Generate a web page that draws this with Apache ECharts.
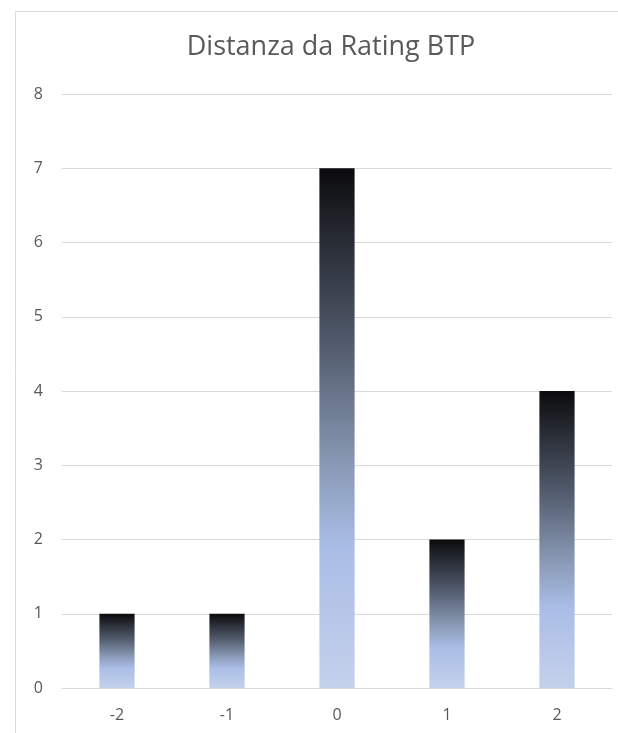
<!DOCTYPE html>
<html><head><meta charset="utf-8">
<script src="https://cdn.jsdelivr.net/npm/echarts@6/dist/echarts.min.js"></script>
<style>html,body{margin:0;padding:0;background:#fff}#c{width:618px;height:733px}</style>
</head><body><div id="c"></div>
<script>
const categories = ['-2', '-1', '0', '1', '2'];
const values = [1, 1, 7, 2, 4];
const yTicks = [0, 1, 2, 3, 4, 5, 6, 7, 8];
const titleText = 'Distanza da Rating BTP';

const chart = echarts.init(document.getElementById('c'), null, {renderer: 'canvas'});
const grad = new echarts.graphic.LinearGradient(0, 0, 0, 1, [
  {offset: 0, color: '#0b0b0d'},
  {offset: 0.35, color: '#545e70'},
  {offset: 0.55, color: '#8494ae'},
  {offset: 0.73, color: '#aabde6'},
  {offset: 1, color: '#c4d1eb'}
]);
chart.setOption({
  animation: false,
  graphic: [{
    type: 'rect', shape: {x: 15.5, y: 11.5, width: 620, height: 740},
    style: {fill: 'none', stroke: '#d9d9d9', lineWidth: 1}, silent: true
  }],
  title: {
    text: titleText, left: 326, top: 29, textAlign: 'center',
    textStyle: {fontFamily: 'Open Sans', fontWeight: 'normal', fontSize: 27, color: '#595959'}
  },
  grid: {left: 62, right: 6, top: 94, bottom: 45, containLabel: false},
  xAxis: {
    type: 'category', data: categories,
    axisLine: {show: true, lineStyle: {color: '#d9d9d9'}},
    axisTick: {show: false},
    axisLabel: {color: '#595959', fontSize: 16, fontFamily: 'Open Sans', margin: 19}
  },
  yAxis: {
    type: 'value', min: yTicks[0], max: yTicks[yTicks.length - 1], interval: 1,
    axisLine: {show: false}, axisTick: {show: false},
    axisLabel: {color: '#595959', fontSize: 16, fontFamily: 'Open Sans', margin: 19},
    splitLine: {lineStyle: {color: '#d9d9d9', width: 1}}
  },
  series: [{
    type: 'bar', data: values, barWidth: '32%',
    itemStyle: {color: grad}
  }]
});
</script></body></html>
